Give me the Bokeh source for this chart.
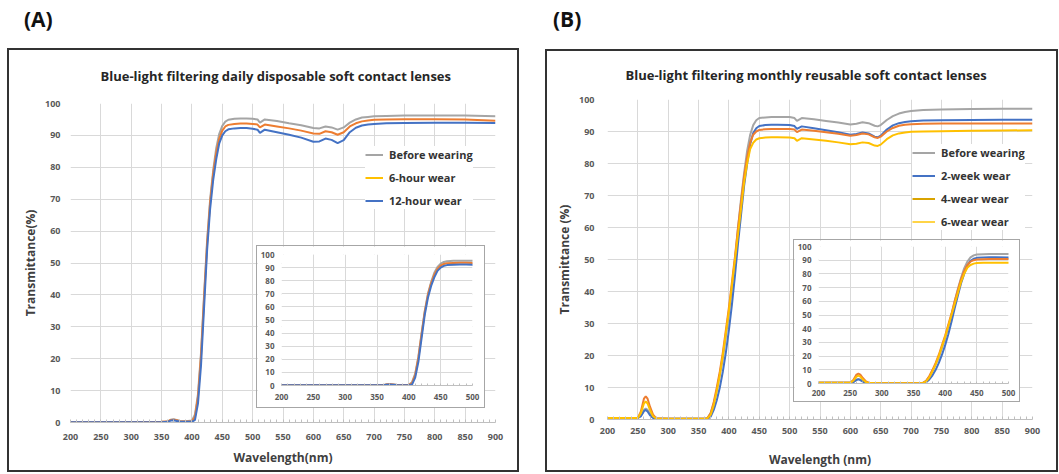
from bokeh.plotting import figure
from bokeh.models import (Range1d, FixedTicker, Legend, LegendItem, Div, GridBox)
from bokeh.embed import file_html
from bokeh.resources import INLINE

FONT = "Open Sans"

# ---------------- data: panel A (daily disposable) ----------------
wlA = [200, 250, 300, 350, 360, 365, 370, 375, 380, 390, 400,
       405, 410, 415, 420, 425, 430, 435, 440, 445, 450, 455, 460,
       470, 480, 490, 500, 508, 512, 520,
       540, 560, 580, 600,
       610, 620, 630, 640, 650,
       660, 670, 680, 690, 700,
       720, 750, 800, 850, 900]
beforeA = [0.1, 0.1, 0.1, 0.2, 0.3, 0.9, 1.0, 0.8, 0.5, 0.4, 0.6,
           2.5, 9, 22, 40, 57, 70, 79, 86, 90.5, 93, 94.3, 94.9,
           95.2, 95.3, 95.3, 95.2, 95.0, 94.0, 95.0,
           94.5, 93.8, 93.2, 92.3,
           92.2, 92.8, 92.5, 91.8, 92.5,
           94.0, 95.0, 95.6, 95.8, 96.0,
           96.1, 96.2, 96.2, 96.2, 96.0]
sixHourA = [0.1, 0.1, 0.1, 0.2, 0.3, 0.8, 0.9, 0.7, 0.4, 0.3, 0.4,
            1.8, 8, 21, 39, 56, 69, 78, 84.5, 89, 91.5, 92.8, 93.3,
            93.6, 93.7, 93.7, 93.6, 93.4, 92.5, 93.4,
            92.8, 92.2, 91.5, 90.6,
            90.5, 91.3, 91.0, 90.2, 91.0,
            92.8, 93.8, 94.4, 94.7, 94.9,
            95.0, 95.1, 95.1, 95.0, 94.6]
twelveHourA = [0.1, 0.1, 0.1, 0.1, 0.2, 0.6, 0.7, 0.5, 0.3, 0.2, 0.2,
               0.8, 6, 18, 36, 54, 67, 76, 82.5, 87.5, 90, 91.3, 91.9,
               92.2, 92.3, 92.3, 92.1, 91.8, 90.8, 91.8,
               91.0, 90.2, 89.3, 88.0,
               88.1, 89.0, 88.6, 87.6, 88.5,
               91.0, 92.4, 93.1, 93.4, 93.6,
               93.8, 93.9, 94.0, 94.0, 93.9]

# ---------------- data: panel B (monthly reusable) ----------------
wlB = [200, 220, 240, 250, 255, 260, 263, 266, 270, 275, 280,
       300, 340, 360,
       365, 370, 375, 380, 385, 390, 395, 400,
       405, 410, 415, 420, 425, 430, 435, 440, 445, 450,
       460, 470, 480, 500,
       508, 512, 520,
       540, 560, 580, 600,
       610, 620, 630, 640, 645, 650,
       660, 670, 680, 690, 700,
       720, 750, 800, 850, 900]
beforeB = [0.5, 0.5, 0.5, 0.5, 1.2, 3.0, 3.4, 3.0, 1.8, 0.7, 0.3,
           0.2, 0.2, 0.2,
           0.5, 2, 5, 9, 14, 19, 26, 33,
           41, 50, 60, 69, 77, 84, 89, 92, 93.5, 94.2,
           94.4, 94.5, 94.5, 94.5,
           94.2, 93.3, 94.2,
           93.8, 93.3, 92.8, 92.2,
           92.4, 92.9, 92.6, 91.8, 91.6, 92.0,
           93.6, 94.8, 95.6, 96.1, 96.4,
           96.7, 96.9, 97.0, 97.1, 97.1]
twoWeekB = [0.5, 0.5, 0.5, 0.5, 1.0, 2.6, 3.0, 2.5, 1.3, 0.5, 0.2,
            0.2, 0.2, 0.2,
            0.3, 0.9, 3, 6, 10, 15, 21, 28,
            36, 45, 55, 64, 73, 80, 86, 89.5, 91, 91.7,
            92.0, 92.1, 92.1, 92.0,
            91.7, 90.8, 91.6,
            91.0, 90.4, 89.8, 89.0,
            89.2, 89.7, 89.4, 88.4, 88.2, 88.7,
            90.6, 91.9, 92.6, 93.0, 93.2,
            93.4, 93.5, 93.6, 93.7, 93.7]
fourWeekB = [0.5, 0.5, 0.5, 0.5, 2.5, 6.5, 7.2, 6.5, 4.0, 1.5, 0.4,
             0.2, 0.2, 0.2,
             0.5, 2, 5.5, 10, 15, 21, 28, 35,
             43, 51, 60, 68, 76, 82, 86.5, 89, 90, 90.5,
             90.7, 90.8, 90.8, 90.8,
             90.6, 89.8, 90.6,
             90.2, 89.8, 89.3, 88.7,
             88.9, 89.4, 89.1, 88.2, 88.0, 88.4,
             90.0, 91.1, 91.8, 92.1, 92.3,
             92.4, 92.5, 92.5, 92.5, 92.5]
sixWeekB = [0.5, 0.5, 0.5, 0.5, 2.0, 5.0, 5.7, 5.0, 3.0, 1.0, 0.3,
            0.2, 0.2, 0.2,
            0.4, 1.5, 4.5, 9, 14, 20, 27, 34,
            42, 50, 58, 66, 74, 80, 84.5, 86.5, 87.5, 87.9,
            88.1, 88.2, 88.2, 88.1,
            87.9, 87.1, 87.9,
            87.5, 87.1, 86.6, 86.0,
            86.2, 86.6, 86.4, 85.6, 85.5, 85.9,
            87.6, 88.8, 89.4, 89.7, 89.9,
            90.0, 90.1, 90.2, 90.3, 90.4]

xTicksMain = [200, 250, 300, 350, 400, 450, 500, 550, 600, 650, 700, 750, 800, 850, 900]
xTicksInset = [200, 250, 300, 350, 400, 450, 500]
yTicks = [0, 10, 20, 30, 40, 50, 60, 70, 80, 90, 100]

labelsA = ["Before wearing", "6-hour wear", "12-hour wear"]
labelsB = ["Before wearing", "2-week wear", "4-wear wear", "6-wear wear"]
titleA = "Blue-light filtering daily disposable soft contact lenses"
titleB = "Blue-light filtering monthly reusable soft contact lenses"

GRAY, ORANGE, BLUE, YELLOW = "#A5A5A5", "#ED7D31", "#4472C4", "#FFC000"
GRID = "#D9D9D9"
NAN = float("nan")


def style_axes(p, tick_size, x_ticks, x_minor, x_standoff, y_standoff):
    p.xaxis.ticker = FixedTicker(ticks=x_ticks, minor_ticks=x_minor)
    p.yaxis.ticker = FixedTicker(ticks=yTicks)
    for ax in (p.xaxis[0], p.yaxis[0]):
        ax.major_label_text_font = FONT
        ax.major_label_text_font_style = "bold"
        ax.major_label_text_font_size = tick_size
        ax.major_label_text_color = "#595959"
        ax.major_tick_in = 0
        ax.major_tick_out = 0
        ax.minor_tick_out = 0
        ax.axis_label_text_font = FONT
        ax.axis_label_text_font_style = "bold"
        ax.axis_label_text_font_size = "12px"
        ax.axis_label_text_color = "#404040"
    p.xaxis.minor_tick_in = 3
    p.xaxis.minor_tick_line_color = "#BFBFBF"
    p.yaxis.minor_tick_line_color = None
    p.xaxis.axis_line_color = "#BFBFBF"
    p.yaxis.axis_line_color = None
    p.xaxis.major_label_standoff = x_standoff
    p.yaxis.major_label_standoff = y_standoff
    p.xgrid.grid_line_color = GRID
    p.ygrid.grid_line_color = GRID
    p.outline_line_color = None


def main_fig(fw, fh, left, right, top, bottom, title, title_standoff, title_offset,
             xlabel, ylabel, xl_standoff, yl_standoff, xs, ys):
    p = figure(frame_width=fw, frame_height=fh, x_range=Range1d(200, 900), y_range=Range1d(0, 100),
               output_backend="svg", toolbar_location=None,
               min_border_left=left, min_border_right=right,
               min_border_top=top, min_border_bottom=bottom)
    p.title.text = title
    p.title.align = "left"
    p.title.text_font = FONT
    p.title.text_font_style = "bold"
    p.title.text_font_size = "13px"
    p.title.text_color = "#262626"
    p.title.standoff = title_standoff
    p.title.offset = title_offset
    style_axes(p, "9px", xTicksMain, list(range(200, 901, 10)), xs, ys)
    p.xaxis.axis_label = xlabel
    p.yaxis.axis_label = ylabel
    p.xaxis.axis_label_standoff = xl_standoff
    p.yaxis.axis_label_standoff = yl_standoff
    return p


def inset_fig(fw, fh, left, right, top, bottom, xs, ys):
    p = figure(frame_width=fw, frame_height=fh, x_range=Range1d(200, 500), y_range=Range1d(0, 100),
               output_backend="svg", toolbar_location=None,
               min_border_left=left, min_border_right=right,
               min_border_top=top, min_border_bottom=bottom)
    style_axes(p, "8px", xTicksInset, list(range(200, 501, 10)), xs, ys)
    p.xaxis.minor_tick_in = 2
    return p


def make_legend(p, entries, loc, glyph_w):
    items = []
    for label, color in entries:
        proxy = p.line(x=[NAN], y=[NAN], line_color=color, line_width=2)
        items.append(LegendItem(label=label, renderers=[proxy]))
    lg = Legend(items=items, location=loc, glyph_width=glyph_w, glyph_height=17,
                label_height=17, spacing=6, padding=5, label_standoff=6, margin=0,
                label_text_font=FONT, label_text_font_style="bold",
                label_text_font_size="11px", label_text_color="#333333",
                border_line_color=None, background_fill_color="white",
                background_fill_alpha=1.0)
    p.add_layout(lg)


# ---------------- panel A ----------------
figA = main_fig(425, 319, 61, 22, 60, 48, titleA, 37, 30, "Wavelength(nm)", "Transmittance(%)",
                6, 3, 11, 10)
for ys_, c in ((beforeA, GRAY), (sixHourA, ORANGE), (twelveHourA, BLUE)):
    figA.line(wlA, ys_, line_color=c, line_width=2)
make_legend(figA, [(labelsA[0], GRAY), (labelsA[1], YELLOW), (labelsA[2], BLUE)], (295, 213), 18)

insA = inset_fig(192, 131, 23, 12, 8, 22, 8, 7)
for ys_, c in ((beforeA, GRAY), (sixHourA, ORANGE), (twelveHourA, BLUE)):
    insA.line(wlA, ys_, line_color=c, line_width=2)

# ---------------- panel B ----------------
figB = main_fig(425, 320, 60, 24, 54, 51, titleB, 32, 18, "Wavelength (nm)", "Transmittance (%)",
                14, 3, 8, 13)
for ys_, c in ((beforeB, GRAY), (twoWeekB, BLUE), (fourWeekB, ORANGE), (sixWeekB, YELLOW)):
    figB.line(wlB, ys_, line_color=c, line_width=2)
make_legend(figB, [(labelsB[0], GRAY), (labelsB[1], BLUE), (labelsB[2], "#D9A300"),
                   (labelsB[3], "#FFD447")], (305, 189), 23)

insB = inset_fig(193, 137, 21, 11, 6, 18, 6, 7)
for ys_, c in ((beforeB, GRAY), (twoWeekB, BLUE), (fourWeekB, ORANGE), (sixWeekB, YELLOW)):
    insB.line(wlB, ys_, line_color=c, line_width=2)


def label_div(t, w, h):
    return Div(text=t, width=w, height=h, margin=0,
               styles={"font-family": FONT, "font-weight": "bold", "font-size": "21px",
                       "line-height": f"{h}px", "color": "#111111"})


def border_div(w, h, bw, color):
    return Div(text="", width=w, height=h, margin=0,
               styles={"border": f"{bw}px solid {color}", "box-sizing": "border-box",
                       "background-color": "transparent"})


TOTAL_W, TOTAL_H = 1059, 474
elements = [
    (label_div("(A)", 50, 28), 24, 5, 50, 28),
    (label_div("(B)", 50, 28), 553, 5, 50, 28),
    (figA, 9, 43, 508, 427),
    (insA, 257, 246, 227, 161),
    (border_div(229, 163, 1, "#A6A6A6"), 256, 245, 229, 163),
    (border_div(512, 424, 2, "#333333"), 7, 48, 512, 424),
    (figB, 547, 45, 509, 425),
    (insB, 794, 240, 225, 161),
    (border_div(227, 163, 1, "#A6A6A6"), 793, 239, 227, 163),
    (border_div(513, 423, 2, "#333333"), 545, 49, 513, 423),
]

xs_edges = sorted(set([0, TOTAL_W] + [e[1] for e in elements] + [e[1] + e[3] for e in elements]))
ys_edges = sorted(set([0, TOTAL_H] + [e[2] for e in elements] + [e[2] + e[4] for e in elements]))
cols = [f"{b - a}px" for a, b in zip(xs_edges[:-1], xs_edges[1:])]
rows = [f"{b - a}px" for a, b in zip(ys_edges[:-1], ys_edges[1:])]
children = []
for m, x, y, w, h in elements:
    c0, c1 = xs_edges.index(x), xs_edges.index(x + w)
    r0, r1 = ys_edges.index(y), ys_edges.index(y + h)
    children.append((m, r0, c0, r1 - r0, c1 - c0))

grid = GridBox(children=children, rows=rows, cols=cols, width=TOTAL_W, height=TOTAL_H, margin=0)

open("out.html", "w").write(file_html(grid, INLINE))
